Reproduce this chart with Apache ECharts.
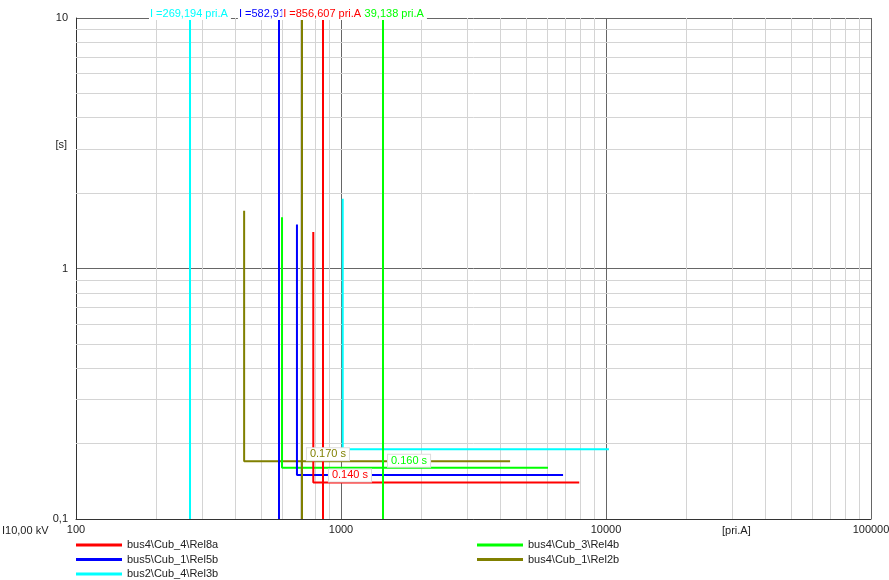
<!DOCTYPE html>
<html>
<head>
<meta charset="utf-8">
<script src="https://cdn.jsdelivr.net/npm/echarts@6/dist/echarts.min.js"></script>
<style>html,body{margin:0;padding:0;background:#fff}#c{width:889px;height:580px}</style>
</head>
<body>
<div id="c"></div>
<script>
// ---- data ----
const relayNames = ['bus4\\Cub_4\\Rel8a', 'bus5\\Cub_1\\Rel5b', 'bus2\\Cub_4\\Rel3b', 'bus4\\Cub_3\\Rel4b', 'bus4\\Cub_1\\Rel2b'];
const relayColors = ['#ff0000', '#0000ff', '#00ffff', '#00ff00', '#808000'];
const pickupCurrent = [786, 682, 1015, 599, 431];      // pri.A
const startTime = [1.4, 1.5, 1.9, 1.6, 1.7];           // s
const tripTime = [0.14, 0.15, 0.19, 0.16, 0.17];       // s
const endCurrent = [7925, 6886, 10260, 6040, 4346];    // pri.A
const markerCurrent = [856.607, 582.913, 269.194, 1439.138, 710.512];
const markerText = ['I =856,607 pri.A', 'I =582,913 pri.A', 'I =269,194 pri.A', 'I =1439,138 pri.A', 'I =710,512 pri.A'];
const timeLabelCurrent = [1081, null, null, 1806, 893];
const timeLabelText = ['0.140 s', null, null, '0.160 s', '0.170 s'];
const drawOrder = [4, 3, 1, 0, 2];
const xMinorGrid = [200,300,400,500,600,700,800,900,2000,3000,4000,5000,6000,7000,8000,9000,20000,30000,40000,50000,60000,70000,80000,90000];
const yMinorGrid = [0.2,0.3,0.4,0.5,0.6,0.7,0.8,0.9,2,3,4,5,6,7,8,9];

const FONT = 'Liberation Sans';
const chart = echarts.init(document.getElementById('c'), null, {renderer: 'canvas'});

const series = [];
series.push({
  type: 'line', name: '__grid', data: [], z: 1, silent: true,
  markLine: {
    silent: true, symbol: ['none', 'none'], animation: false, z: 1,
    label: {show: false},
    lineStyle: {color: '#d4d4d4', width: 1, type: 'solid'},
    data: xMinorGrid.map(v => ({xAxis: v})).concat(yMinorGrid.map(v => ({yAxis: v})))
  }
});

drawOrder.forEach(i => {
  const s = {
    type: 'line', name: relayNames[i], z: 3,
    showSymbol: false, symbol: 'none', animation: false,
    color: relayColors[i],
    lineStyle: {color: relayColors[i], width: 2},
    data: [[pickupCurrent[i], startTime[i]], [pickupCurrent[i], tripTime[i]], [endCurrent[i], tripTime[i]]],
    markLine: {
      silent: true, symbol: ['none', 'none'], animation: false, z: 4,
      lineStyle: {color: relayColors[i], width: 2, type: 'solid'},
      label: {
        show: true, position: 'end', distance: -2, formatter: markerText[i],
        color: relayColors[i], fontFamily: FONT, fontSize: 11,
        backgroundColor: '#ffffff', padding: [1, 3, 1, 1]
      },
      data: [{xAxis: markerCurrent[i]}]
    }
  };
  if (timeLabelText[i]) {
    s.markPoint = {
      silent: true, animation: false, z: 10,
      symbol: 'rect', symbolSize: 1, itemStyle: {color: 'rgba(0,0,0,0)'},
      label: {
        show: true, position: 'inside', offset: [0, -7],
        formatter: timeLabelText[i], color: relayColors[i], fontFamily: FONT, fontSize: 11,
        backgroundColor: '#ffffff', borderColor: '#dddddd', borderWidth: 1, padding: [1, 3, 0, 3]
      },
      data: [{coord: [timeLabelCurrent[i], tripTime[i]]}]
    };
  }
  series.push(s);
});

const legendCommon = {
  orient: 'vertical', icon: 'rect', itemWidth: 46, itemHeight: 3, itemGap: 2.5,
  selectedMode: false, padding: 0, height: 60,
  textStyle: {fontFamily: FONT, fontSize: 11, color: '#222', lineHeight: 12}
};

chart.setOption({
  animation: false,
  backgroundColor: '#ffffff',
  grid: {left: 76, right: 18, top: 18, bottom: 61, outerBoundsMode: 'none', containLabel: false},
  xAxis: {
    type: 'log', logBase: 10, min: 100, max: 100000,
    axisLine: {show: true, lineStyle: {color: '#333', width: 1}},
    axisTick: {show: false},
    splitLine: {show: true, lineStyle: {color: '#666', width: 1}},
    axisLabel: {margin: 5, fontFamily: FONT, fontSize: 11, color: '#222',
      formatter: v => String(Math.round(v)), showMaxLabel: true, showMinLabel: true}
  },
  yAxis: {
    type: 'log', logBase: 10, min: 0.1, max: 10,
    axisLine: {show: true, lineStyle: {color: '#333', width: 1}},
    axisTick: {show: false},
    splitLine: {show: true, lineStyle: {color: '#666', width: 1}},
    axisLabel: {margin: 8, fontFamily: FONT, fontSize: 11, color: '#222',
      formatter: v => String(parseFloat(Number(v).toPrecision(6))).replace('.', ',')}
  },
  legend: [
    Object.assign({left: 76, top: 539, data: [relayNames[0], relayNames[1], relayNames[2]]}, legendCommon),
    Object.assign({left: 477, top: 539, data: [relayNames[3], relayNames[4]]}, legendCommon)
  ],
  graphic: [
    {type: 'text', right: 889 - 67, top: 139, style: {text: '[s]', font: '11px "Liberation Sans"', fill: '#222'}},
    {type: 'text', left: 722, top: 525, style: {text: '[pri.A]', font: '11px "Liberation Sans"', fill: '#222'}},
    {type: 'text', left: 2, top: 525, style: {text: 'I10,00 kV', font: '11px "Liberation Sans"', fill: '#222'}}
  ],
  series: series
});
</script>
</body>
</html>
